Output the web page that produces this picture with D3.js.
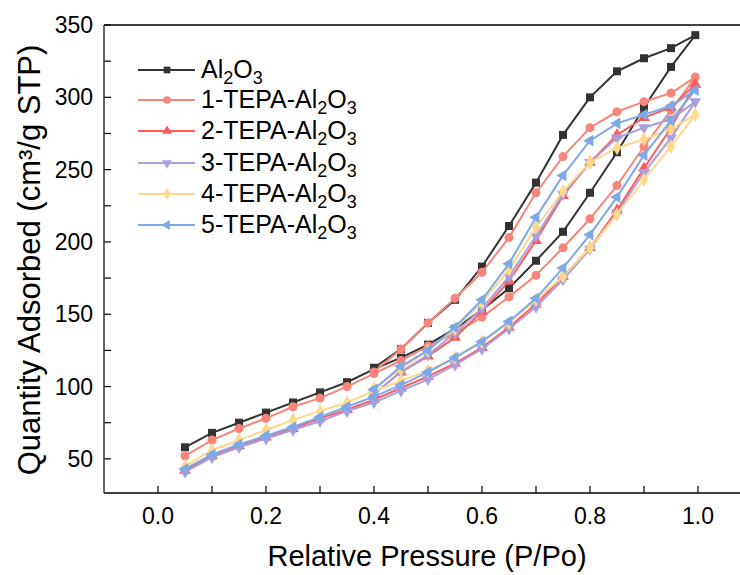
<!DOCTYPE html>
<html><head><meta charset="utf-8">
<script src="https://cdn.jsdelivr.net/npm/d3@7"></script>
<style>body{margin:0;background:#fff}svg{display:block}text{font-family:"Liberation Sans",Arial,sans-serif}</style>
</head><body><svg id="c" width="740" height="575"></svg>
<script>
const pressureAds = [0.05,0.10,0.15,0.20,0.25,0.30,0.35,0.40,0.45,0.50,0.55,0.60,0.65,0.70,0.75,0.80,0.85,0.90,0.95,0.995];
const pressureDes = [0.95,0.90,0.85,0.80,0.75,0.70,0.65,0.60,0.55,0.50,0.45,0.40];
const seriesNames = ["Al2O3","1-TEPA-Al2O3","2-TEPA-Al2O3","3-TEPA-Al2O3","4-TEPA-Al2O3","5-TEPA-Al2O3"];
const al2o3Ads = [58,68,75,82,89,96,103,112,120,129,140,153,168,187,207,234,262,293,321,343];
const al2o3Des = [334,327,318,300,274,241,211,183,160,144,126,113];
const tepa1Ads = [52,63,71,78,86,92,100,109,118,128,137,148,162,177,196,216,239,266,291,314];
const tepa1Des = [303,297,290,279,259,234,203,179,161,144,126,110];
const tepa2Ads = [42,52,59,65,71,78,84,91,99,107,116,127,141,157,176,196,222,251,279,309];
const tepa2Des = [293,286,274,255,232,201,173,152,134,121,110,95];
const tepa3Ads = [41,51,58,64,70,76,83,89,97,105,115,126,140,155,174,195,220,248,272,297];
const tepa3Des = [285,279,272,255,233,204,176,154,137,122,110,95];
const tepa4Ads = [45,56,63,70,77,83,89,97,104,111,120,131,144,160,176,196,219,243,266,288];
const tepa4Des = [278,271,265,255,235,210,181,158,140,125,112,99];
const tepa5Ads = [43,53,60,66,72,79,86,93,101,110,120,131,145,161,182,205,231,260,284,305];
const tepa5Des = [294,288,282,270,246,217,185,160,141,125,114,98];
const xTicks = [0.0,0.2,0.4,0.6,0.8,1.0];
const xMinorTicks = [0.1,0.3,0.5,0.7,0.9];
const yTicks = [50,100,150,200,250,300,350];
const yMinorTicks = [75,125,175,225,275,325];

const colors = ["#333333","#F8857A","#FF5A5A","#A99FDF","#FFD88A","#7EA8E6"];
const ads = [al2o3Ads,tepa1Ads,tepa2Ads,tepa3Ads,tepa4Ads,tepa5Ads];
const des = [al2o3Des,tepa1Des,tepa2Des,tepa3Des,tepa4Des,tepa5Des];

const svg = d3.select("#c");
const L=104, T=25, B=493, R=740;
const x = d3.scaleLinear().domain([-0.1,1.1]).range([L, L+648]);
const y = d3.scaleLinear().domain([26.4,350]).range([B,T]);

const g = svg.append("g");
const tk = (vals,len)=>{
  vals.forEach(v=>{
    g.append("line").attr("x1",x(v)).attr("x2",x(v)).attr("y1",B).attr("y2",B-len).attr("stroke","#000").attr("stroke-width",1.2);
  });
};
tk(xTicks,7); tk(xMinorTicks,7);
const tky=(vals,len)=>{
  vals.forEach(v=>{
    g.append("line").attr("x1",L).attr("x2",L+len).attr("y1",y(v)).attr("y2",y(v)).attr("stroke","#000").attr("stroke-width",1.2);
  });
};
tky(yTicks,7); tky(yMinorTicks,7);
xTicks.forEach(v=>g.append("text").attr("x",x(v)).attr("y",524).attr("text-anchor","middle").attr("font-size",23).text(d3.format(".1f")(v)));
yTicks.forEach(v=>g.append("text").attr("x",93).attr("y",y(v)+8).attr("text-anchor","end").attr("font-size",23).text(v));
g.append("line").attr("x1",L).attr("x2",R).attr("y1",T).attr("y2",T).attr("stroke","#000").attr("stroke-width",1.5);
g.append("line").attr("x1",L).attr("x2",R).attr("y1",B).attr("y2",B).attr("stroke","#000").attr("stroke-width",1.5);
g.append("line").attr("x1",L).attr("x2",L).attr("y1",T).attr("y2",B).attr("stroke","#333").attr("stroke-width",1.5);

svg.append("text").attr("x",427).attr("y",566).attr("text-anchor","middle").attr("font-size",29).text("Relative Pressure (P/Po)");
svg.append("text").attr("transform","translate(40,260) rotate(-90)").attr("text-anchor","middle").attr("font-size",31)
  .text("Quantity Adsorbed (cm³/g STP)");

const symDefs = [
  {t:d3.symbolSquare,s:64,r:0},
  {t:d3.symbolCircle,s:64,r:0},
  {t:d3.symbolTriangle,s:60,r:0},
  {t:d3.symbolTriangle,s:60,r:180},
  {t:d3.symbolDiamond,s:60,r:0},
  {t:d3.symbolTriangle,s:60,r:-90}
];
const line = d3.line().x(d=>x(d[0])).y(d=>y(d[1]));
ads.forEach((a,i)=>{
  const pts = pressureAds.map((p,j)=>[p,a[j]]).concat(pressureDes.map((p,j)=>[p,des[i][j]]));
  const gg = svg.append("g");
  gg.append("path").attr("d",line(pts)).attr("fill","none").attr("stroke",colors[i]).attr("stroke-width",2);
  const sym = d3.symbol().type(symDefs[i].t).size(symDefs[i].s);
  gg.selectAll("path.m").data(pts).enter().append("path").attr("class","m")
    .attr("d",sym).attr("fill",colors[i])
    .attr("transform",d=>`translate(${x(d[0])},${y(d[1])}) rotate(${symDefs[i].r})`);
});

const legY = [70,100,131,163,194,225];
seriesNames.forEach((n,i)=>{
  const lg = svg.append("g");
  lg.append("line").attr("x1",138).attr("x2",195).attr("y1",legY[i]).attr("y2",legY[i]).attr("stroke",colors[i]).attr("stroke-width",2);
  lg.append("path").attr("d",d3.symbol().type(symDefs[i].t).size(symDefs[i].s*0.7)()).attr("fill",colors[i])
    .attr("transform",`translate(167,${legY[i]}) rotate(${symDefs[i].r})`);
  const t = lg.append("text").attr("x",201).attr("y",legY[i]+8).attr("font-size",25);
  const pre = n.replace("Al2O3","");
  t.append("tspan").text(pre+"Al");
  t.append("tspan").attr("font-size",18).attr("dy",6).text("2");
  t.append("tspan").attr("dy",-6).text("O");
  t.append("tspan").attr("font-size",18).attr("dy",6).text("3");
});
</script></body></html>
